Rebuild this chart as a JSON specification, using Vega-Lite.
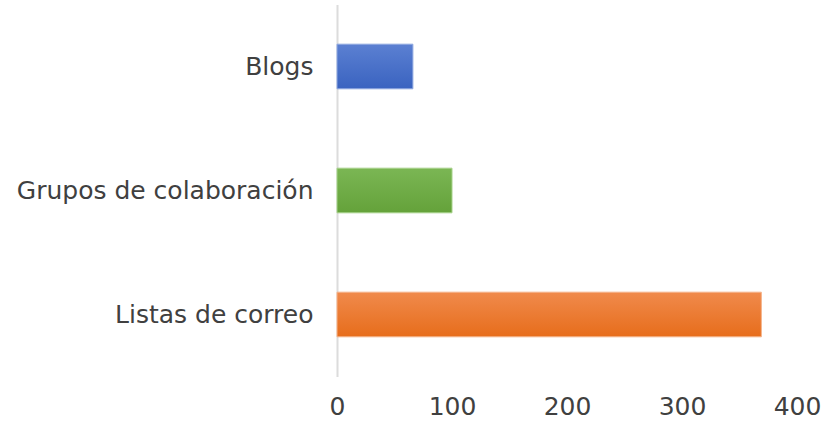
{
  "$schema": "https://vega.github.io/schema/vega-lite/v6.json",
  "width": 460,
  "height": 372,
  "autosize": {"type": "none"},
  "padding": {"left": 337, "top": 4.5, "right": 33, "bottom": 44.5},
  "background": "white",
  "config": {"view": {"stroke": null}, "font": "DejaVu Sans"},
  "data": {"values": [
    {"category": "Blogs", "value": 66},
    {"category": "Grupos de colaboración", "value": 100},
    {"category": "Listas de correo", "value": 369}
  ]},
  "encoding": {
    "y": {"field": "category", "type": "nominal", "sort": ["Blogs", "Grupos de colaboración", "Listas de correo"],
      "scale": {"paddingInner": 0.64, "paddingOuter": 0.32},
      "axis": {"title": null, "ticks": false, "domain": true, "domainColor": "#dcdcdc", "domainWidth": 2,
        "labelFont": "DejaVu Sans", "labelFontSize": 25, "labelColor": "#404040", "labelPadding": 24, "labelLimit": 400}},
    "x": {"field": "value", "type": "quantitative", "scale": {"domain": [0, 400]},
      "axis": {"title": null, "ticks": false, "domain": false, "grid": false, "values": [0, 100, 200, 300, 400],
        "labelFont": "DejaVu Sans", "labelFontSize": 25, "labelColor": "#404040", "labelBaseline": "alphabetic", "labelPadding": 38, "labelFlush": false}}
  },
  "layer": [
    {"transform": [{"filter": "datum.category === 'Blogs'"}],
     "mark": {"type": "bar", "stroke": "#8fa8e0", "strokeWidth": 1,
       "color": {"gradient": "linear", "x1": 0, "y1": 0, "x2": 0, "y2": 1, "stops": [{"offset": 0, "color": "#5b80d2"}, {"offset": 1, "color": "#3a63c0"}]}}},
    {"transform": [{"filter": "datum.category === 'Grupos de colaboración'"}],
     "mark": {"type": "bar", "stroke": "#a6d28a", "strokeWidth": 1,
       "color": {"gradient": "linear", "x1": 0, "y1": 0, "x2": 0, "y2": 1, "stops": [{"offset": 0, "color": "#7bb654"}, {"offset": 1, "color": "#64a23a"}]}}},
    {"transform": [{"filter": "datum.category === 'Listas de correo'"}],
     "mark": {"type": "bar", "stroke": "#f5b38a", "strokeWidth": 1,
       "color": {"gradient": "linear", "x1": 0, "y1": 0, "x2": 0, "y2": 1, "stops": [{"offset": 0, "color": "#f08a4c"}, {"offset": 1, "color": "#e76d1b"}]}}}
  ]
}
